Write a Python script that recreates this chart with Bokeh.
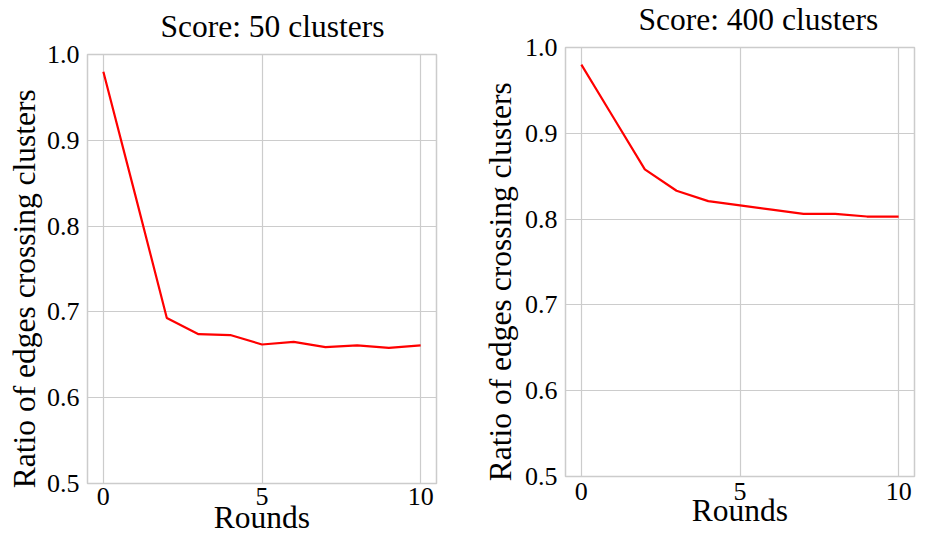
from bokeh.plotting import figure
from bokeh.layouts import row
from bokeh.models import FixedTicker, Range1d
from bokeh.embed import file_html
from bokeh.resources import INLINE

# ---- data ----
rounds = [0, 1, 2, 3, 4, 5, 6, 7, 8, 9, 10]
score_50 = [0.980, 0.837, 0.693, 0.674, 0.673, 0.662, 0.665, 0.659, 0.661, 0.658, 0.661]
score_400 = [0.980, 0.919, 0.858, 0.833, 0.821, 0.816, 0.811, 0.806, 0.806, 0.803, 0.803]
titles = ["Score: 50 clusters", "Score: 400 clusters"]
x_ticks = [0, 5, 10]
y_ticks = [0.5, 0.6, 0.7, 0.8, 0.9, 1.0]
y_tick_labels = ["0.5", "0.6", "0.7", "0.8", "0.9", "1.0"]
x_label = "Rounds"
y_label = "Ratio of edges crossing clusters"

FONT = "Liberation Serif"
GRID = "#cccccc"
LABEL_SIZE = "31.5px"
PAD = "\u00a0" * 5  # shifts the centred y label down a little, as in the reference


def make_fig(title, ys, width, bl, br, ylab_standoff, xtick_standoff, xlab_standoff):
    p = figure(width=width, height=537, output_backend="svg", toolbar_location=None,
               x_range=Range1d(-0.5, 10.5), y_range=Range1d(0.5, 1.0),
               min_border_left=bl, min_border_right=br, min_border_top=54, min_border_bottom=54,
               background_fill_color="white", border_fill_color="white")
    p.line(rounds, ys, line_color="red", line_width=2.2)

    p.title.text = title
    p.title.align = "left"
    p.title.offset = 73
    p.title.standoff = 17
    p.title.vertical_align = "top"
    p.title.text_font = FONT
    p.title.text_font_size = LABEL_SIZE
    p.title.text_font_style = "normal"
    p.title.text_color = "black"

    p.xaxis.ticker = FixedTicker(ticks=x_ticks)
    p.yaxis.ticker = FixedTicker(ticks=y_ticks)
    p.yaxis.major_label_overrides = {t: l for t, l in zip(y_ticks, y_tick_labels)}
    p.xaxis.major_label_overrides = {t: str(t) for t in x_ticks}

    for ax in (p.xaxis, p.yaxis):
        ax.axis_line_color = None
        ax.major_tick_line_color = None
        ax.minor_tick_line_color = None
        ax.major_tick_out = 0
        ax.major_tick_in = 0
        ax.major_label_text_font = FONT
        ax.major_label_text_font_size = "26px"
        ax.major_label_text_color = "black"
        ax.axis_label_text_font = FONT
        ax.axis_label_text_font_size = LABEL_SIZE
        ax.axis_label_text_font_style = "normal"
        ax.axis_label_text_color = "black"

    p.xaxis.axis_label = x_label
    p.yaxis.axis_label = y_label + PAD
    p.xaxis.major_label_standoff = xtick_standoff
    p.xaxis.axis_label_standoff = xlab_standoff
    p.yaxis.major_label_standoff = 8
    p.yaxis.axis_label_standoff = ylab_standoff

    p.xgrid.ticker = FixedTicker(ticks=x_ticks)
    p.ygrid.ticker = FixedTicker(ticks=y_ticks)
    p.grid.grid_line_color = GRID
    p.grid.grid_line_width = 1.2
    p.outline_line_color = GRID
    p.outline_line_width = 1.5
    return p


p1 = make_fig(titles[0], score_50, 470, 87, 34, 2, 4, -8)
p2 = make_fig(titles[1], score_400, 455, 95, 11, 4, 6, -10)
p2.styles = {"transform": "translateY(-7px)"}

layout = row(p1, p2)
open("out.html", "w").write(file_html(layout, INLINE))
